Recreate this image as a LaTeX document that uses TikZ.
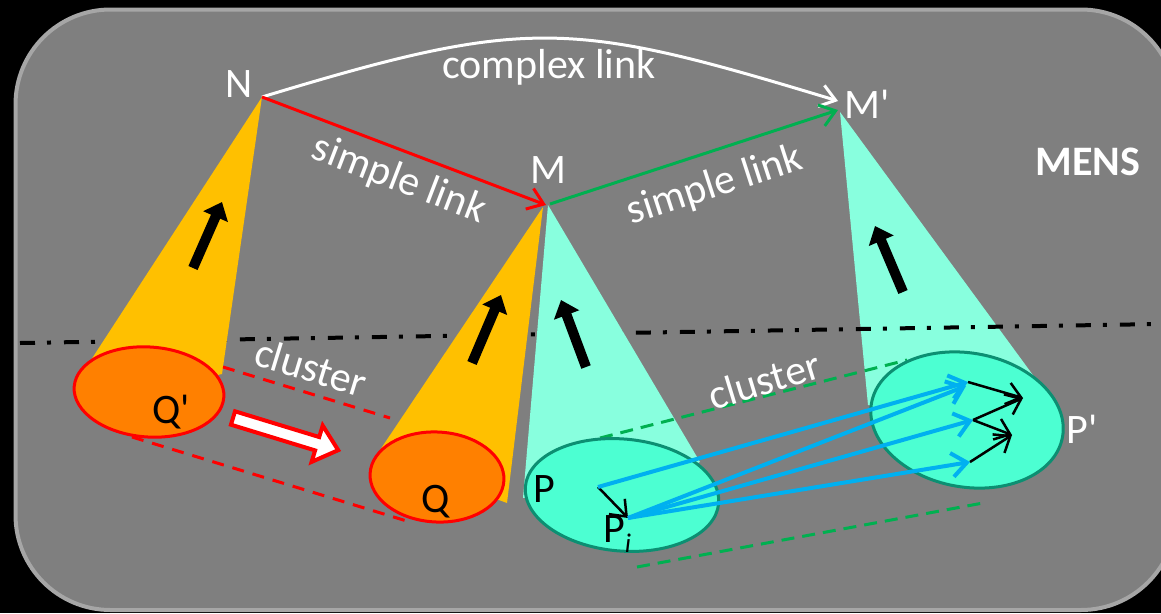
\documentclass[tikz,border=0pt]{standalone}
\usepackage{fontspec}
\setmainfont{Carlito}
\usetikzlibrary{arrows.meta,shapes.geometric}

\definecolor{panel}{HTML}{7F7F7F}
\definecolor{rim}{HTML}{A6A6A6}
\definecolor{amber}{HTML}{FFC000}
\definecolor{tangerine}{HTML}{FF8000}
\definecolor{aqua}{HTML}{88FFDE}
\definecolor{mint}{HTML}{4CFFD2}
\definecolor{deepteal}{HTML}{0C8F72}
\definecolor{linkgreen}{HTML}{00B050}
\definecolor{sky}{HTML}{00B0F0}

\newcommand{\tick}{\textquotesingle}

\tikzset{
  lbl/.style={font=\fontsize{42}{48}\selectfont, inner sep=0pt, text=white},
  dark/.style={lbl, text=black},
  link/.style={line width=3pt, -{Straight Barb[length=15pt,width=22pt]}},
  blockarrow/.style={black, line width=10pt, -{Triangle[length=16pt,width=26pt]}},
  ray/.style={sky, line width=4pt, -{Straight Barb[length=15pt,width=24pt]}},
  hop/.style={black, line width=2.5pt, -{Straight Barb[length=14pt,width=22pt]}},
  pool/.style={ellipse, draw, line width=3pt, inner sep=0pt},
  horizon/.style={black, line width=4pt, dash pattern=on 15pt off 12pt on 4pt off 13pt},
  redband/.style={red, line width=3pt, dash pattern=on 12pt off 9pt},
  greenband/.style={linkgreen, line width=3pt, dash pattern=on 13pt off 8pt},
}

\begin{document}
\begin{tikzpicture}[x=1pt,y=-1pt]
\useasboundingbox (0,0) rectangle (1161,613);
\fill[black] (0,0) rectangle (1161,613);
\begin{scope}
  \clip (0,0) rectangle (1161,613);
  \draw[rim, fill=panel, line width=4pt, rounded corners=95pt] (15.5,9.5) rectangle (1176,610);
\end{scope}

% cone apexes and link end points
\coordinate (N) at (262,97);
\coordinate (M) at (546,205);
\coordinate (Mg) at (550,204);
\coordinate (Mq) at (838,110);
\coordinate (Mw) at (838,101);

% right cone (under the level line)
\fill[aqua] (840,112) -- (868,405) -- (967,420) -- (1038,382) -- cycle;

% level line
\coordinate (h1) at (20,343);
\coordinate (h2) at (1160,324);
\draw[horizon] (h1) -- (h2);

% left and middle cones
\fill[amber] (N) -- (91,360) -- (149,392) -- (222,374) -- cycle;
\fill[amber] (543,207) -- (378,453) -- (437,477) -- (507,503) -- cycle;
\fill[aqua] (548,205) -- (523,498) -- (622,495) -- (700,462) -- cycle;

% cluster bands
\coordinate (ra1) at (223,367); \coordinate (ra2) at (390,418);
\coordinate (rb1) at (132,437); \coordinate (rb2) at (410,522);
\coordinate (ga1) at (600,438); \coordinate (ga2) at (907,360);
\coordinate (gb1) at (637,567); \coordinate (gb2) at (983,503);
\draw[redband] (ra1) -- (ra2);
\draw[redband] (rb1) -- (rb2);
\draw[greenband] (ga1) -- (ga2);
\draw[greenband] (gb1) -- (gb2);

% cone bases
\node[pool, fill=tangerine, draw=red, minimum width=150pt, minimum height=90pt, rotate=-4] (Qp) at (149,392) {};
\node[pool, fill=tangerine, draw=red, minimum width=134pt, minimum height=90pt, rotate=-3] (Q) at (437,477) {};
\node[pool, fill=mint, draw=deepteal, minimum width=194pt, minimum height=112pt, rotate=-5] (P) at (622,495) {};
\node[pool, fill=mint, draw=deepteal, minimum width=194pt, minimum height=134pt, rotate=-10] (Pp) at (967,420) {};

% upward arrows inside the cones
\coordinate (a1s) at (193,268); \coordinate (a1e) at (222,202);
\coordinate (a2s) at (472,363); \coordinate (a2e) at (501,295);
\coordinate (a3s) at (586,367); \coordinate (a3e) at (561,300);
\coordinate (a4s) at (903,292); \coordinate (a4e) at (875,226);
\draw[blockarrow] (a1s) -- (a1e);
\draw[blockarrow] (a2s) -- (a2e);
\draw[blockarrow] (a3s) -- (a3e);
\draw[blockarrow] (a4s) -- (a4e);

% transfer arrow between the clusters
\begin{scope}[shift={(233,418)}, rotate=-17]
  \draw[red, line width=4pt, fill=white, line join=miter]
    (0,-7) -- (88,-7) -- (88,-19) -- (110,0) -- (88,19) -- (88,7) -- (0,7) -- cycle;
\end{scope}

% links between the concepts
\draw[link, white] (N) .. controls (529,16) and (571,20) .. (Mw);
\draw[link, red] (N) -- (M);
\draw[link, linkgreen] (Mg) -- (Mq);

% mappings from P into P'
\coordinate (pp) at (598,487);
\coordinate (ppi) at (628,518);
\coordinate (t1) at (968,382);
\coordinate (t1b) at (966,386);
\coordinate (t2) at (973,420);
\coordinate (t3) at (970,462);
\coordinate (u1) at (1023,398);
\coordinate (u2) at (1012,435);
\draw[hop] (pp) -- (ppi);
\draw[ray] (pp) -- (t1);
\draw[ray] (ppi) -- (t1b);
\draw[ray] (ppi) -- (t2);
\draw[ray] (ppi) -- (t3);
\draw[hop] (t1) -- (u1);
\draw[hop] (t2) -- (u1);
\draw[hop] (t2) -- (u2);
\draw[hop] (t3) -- (u2);

% labels
\node[lbl, anchor=base] (lN) at (239,97) {N};
\node[lbl, anchor=base] (lM) at (548,183) {M};
\node[lbl, anchor=base] (lMp) at (867,118) {M\tick};
\node[lbl, anchor=base, font=\fontsize{42}{48}\selectfont\bfseries] (lMENS) at (1088,175) {MENS};
\node[lbl, anchor=base] (lcx) at (549,78) {complex link};
\node[lbl, rotate=-21] (ls1) at (399,180) {simple link};
\node[lbl, rotate=18] (ls2) at (715,186) {simple link};
\node[lbl, rotate=-17] (lc1) at (311,367) {cluster};
\node[lbl, rotate=17] (lc2) at (764,380) {cluster};
\node[dark, anchor=base] (lQp) at (171,423) {Q\tick};
\node[dark, anchor=base] (lQ) at (436,512) {Q};
\node[dark, anchor=base] (lP) at (544,502) {P};
\node[dark, anchor=base west] (lPi) at (603,542) {P\raisebox{-10pt}{\fontsize{27}{30}\selectfont\itshape i}};
\node[lbl, anchor=base] (lPp) at (1082,443) {P\tick};
\end{tikzpicture}
\end{document}
